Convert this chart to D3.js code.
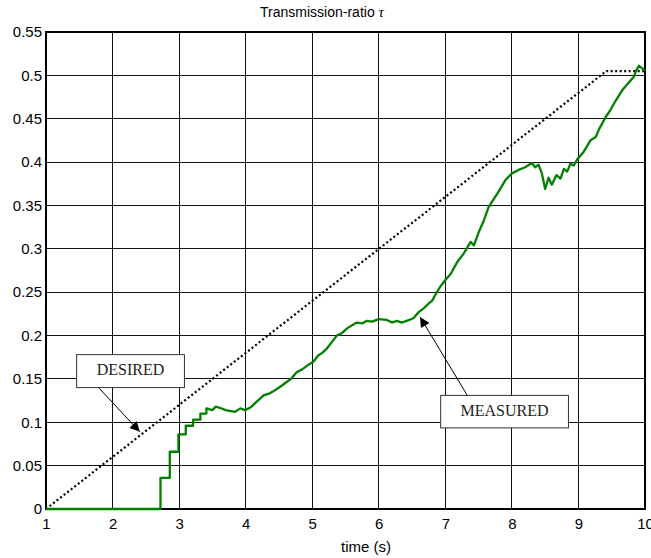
<!DOCTYPE html>
<html>
<head>
<meta charset="utf-8">
<script src="https://cdn.jsdelivr.net/npm/d3@7"></script>
<style>
  html, body { margin: 0; padding: 0; background: #fff; }
  svg { display: block; }
  .tick text { font-family: "Liberation Sans", Arial, sans-serif; font-size: 15px; fill: #000; }
</style>
</head>
<body>
<svg id="chart" width="651" height="558"></svg>
<script>
// Time axis (s) and transmission-ratio axis
const xTicks = [1, 2, 3, 4, 5, 6, 7, 8, 9, 10];
const yTicks = [0, 0.05, 0.1, 0.15, 0.2, 0.25, 0.3, 0.35, 0.4, 0.45, 0.5, 0.55];

// Reference trajectory: ramp then hold
const desiredT = [1, 9.42, 10];
const desiredV = [0, 0.505, 0.505];

// Measured transmission ratio
const measuredT = [1, 2.72, 2.72, 2.86, 2.86, 2.99, 2.99, 3.1, 3.1, 3.21, 3.21, 3.32, 3.32, 3.41, 3.41,
  3.5, 3.55, 3.6, 3.7, 3.84, 3.92, 3.99, 4.07, 4.17, 4.27, 4.35, 4.44, 4.52, 4.59, 4.68, 4.77, 4.85, 4.92,
  5.02, 5.09, 5.15, 5.22, 5.3, 5.37, 5.45, 5.52, 5.6, 5.67, 5.75, 5.82, 5.9, 6.0, 6.12, 6.2, 6.27, 6.35,
  6.42, 6.52, 6.6, 6.67, 6.75, 6.8, 6.85, 6.92, 7.0, 7.08, 7.18, 7.28, 7.38, 7.43, 7.5, 7.58, 7.65, 7.7,
  7.8, 7.9, 8.0, 8.1, 8.2, 8.3, 8.35, 8.4, 8.45, 8.5, 8.55, 8.6, 8.67, 8.73, 8.78, 8.83, 8.88, 8.93, 8.98,
  9.08, 9.18, 9.26, 9.31, 9.41, 9.48, 9.56, 9.66, 9.76, 9.83, 9.87, 9.91, 9.96, 10];
const measuredV = [0, 0, 0.036, 0.036, 0.066, 0.066, 0.086, 0.086, 0.096, 0.096, 0.103, 0.103, 0.110, 0.110, 0.116,
  0.114, 0.118, 0.117, 0.114, 0.112, 0.116, 0.114, 0.117, 0.124, 0.131, 0.133, 0.137, 0.141, 0.145, 0.150, 0.158, 0.161, 0.165,
  0.170, 0.177, 0.180, 0.185, 0.193, 0.200, 0.203, 0.208, 0.212, 0.215, 0.214, 0.217, 0.216, 0.219, 0.218, 0.215, 0.217, 0.215,
  0.217, 0.220, 0.227, 0.231, 0.237, 0.240, 0.247, 0.256, 0.264, 0.271, 0.285, 0.295, 0.308, 0.304, 0.319, 0.333, 0.348, 0.354,
  0.366, 0.379, 0.387, 0.391, 0.394, 0.399, 0.394, 0.397, 0.387, 0.369, 0.382, 0.374, 0.385, 0.381, 0.392, 0.389, 0.398, 0.396, 0.403,
  0.412, 0.425, 0.429, 0.438, 0.452, 0.460, 0.471, 0.483, 0.492, 0.498, 0.506, 0.511, 0.508, 0.505];

// Callout labels: text, arrow tip (t, v), box corners (t, v) and arrow tail (t, v)
const calloutText = ["DESIRED", "MEASURED"];
const calloutTip = [[2.41, 0.089], [6.62, 0.2215]];
const calloutBox = [[1.46, 0.178, 3.08, 0.140], [6.93, 0.131, 8.85, 0.0935]];
const calloutTail = [[1.79, 0.140], [7.33, 0.131]];

const svg = d3.select("#chart");
const margin = { left: 46, right: 6, top: 32, bottom: 49 };
const W = 651, H = 558;

const x = d3.scaleLinear().domain([1, 10]).range([margin.left, W - margin.right]);
const y = d3.scaleLinear().domain([0, 0.55]).range([H - margin.bottom, margin.top]);

// Grid
const grid = svg.append("g");
grid.selectAll(".gx").data(xTicks.slice(1, -1)).join("line")
  .attr("x1", d => x(d)).attr("x2", d => x(d))
  .attr("y1", y(0)).attr("y2", y(0.55))
  .attr("stroke", "#111").attr("stroke-width", 1).attr("shape-rendering", "crispEdges");
grid.selectAll(".gy").data(yTicks.slice(1, -1)).join("line")
  .attr("y1", d => y(d)).attr("y2", d => y(d))
  .attr("x1", x(1)).attr("x2", x(10))
  .attr("stroke", "#111").attr("stroke-width", 1).attr("shape-rendering", "crispEdges");

// Axes
const xAxis = d3.axisBottom(x).tickValues(xTicks).tickFormat(d3.format("d")).tickSize(0).tickPadding(9);
const yAxis = d3.axisLeft(y).tickValues(yTicks).tickFormat(d => String(+d.toFixed(2))).tickSize(0).tickPadding(4);
svg.append("g").attr("transform", `translate(0,${y(0)})`).call(xAxis).call(g => g.select(".domain").remove());
svg.append("g").attr("transform", `translate(${x(1)},0)`).call(yAxis).call(g => g.select(".domain").remove());

// Frame
svg.append("rect")
  .attr("x", x(1)).attr("y", y(0.55))
  .attr("width", x(10) - x(1)).attr("height", y(0) - y(0.55))
  .attr("fill", "none").attr("stroke", "#000").attr("stroke-width", 2);

// Desired trajectory (dotted)
const line = d3.line().x(d => x(d[0])).y(d => y(d[1]));
svg.append("path")
  .datum(desiredT.map((t, i) => [t, desiredV[i]]))
  .attr("d", line)
  .attr("fill", "none").attr("stroke", "#000").attr("stroke-width", 2.2)
  .attr("stroke-dasharray", "2,2.5");

// Measured trajectory
svg.append("path")
  .datum(measuredT.map((t, i) => [t, measuredV[i]]))
  .attr("d", line)
  .attr("fill", "none").attr("stroke", "#008000").attr("stroke-width", 2.3)
  .attr("stroke-linejoin", "round");

// Callouts
const defs = svg.append("defs");
defs.append("marker").attr("id", "arrow").attr("viewBox", "0 0 10 10")
  .attr("refX", 10).attr("refY", 5).attr("markerWidth", 14).attr("markerHeight", 10)
  .attr("markerUnits", "userSpaceOnUse").attr("orient", "auto")
  .append("path").attr("d", "M0,0 L10,5 L0,10 Z").attr("fill", "#000");

calloutText.forEach((txt, i) => {
  const b = calloutBox[i];
  svg.append("line")
    .attr("x1", x(calloutTail[i][0])).attr("y1", y(calloutTail[i][1]))
    .attr("x2", x(calloutTip[i][0])).attr("y2", y(calloutTip[i][1]))
    .attr("stroke", "#000").attr("stroke-width", 1).attr("marker-end", "url(#arrow)");
  svg.append("rect")
    .attr("x", x(b[0])).attr("y", y(b[1]))
    .attr("width", x(b[2]) - x(b[0])).attr("height", y(b[3]) - y(b[1]))
    .attr("fill", "#fff").attr("stroke", "#333").attr("stroke-width", 1);
  svg.append("text")
    .attr("x", (x(b[0]) + x(b[2])) / 2).attr("y", (y(b[1]) + y(b[3])) / 2 + 4)
    .attr("text-anchor", "middle")
    .attr("font-family", "'Liberation Serif', 'Times New Roman', serif").attr("font-size", 16)
    .attr("fill", "#222").text(txt);
});

// Title and axis label
const title = svg.append("text")
  .attr("x", 322).attr("y", 17)
  .attr("text-anchor", "middle")
  .attr("font-family", "'Liberation Sans', Arial, sans-serif").attr("font-size", 14).attr("fill", "#000");
title.append("tspan").text("Transmission-ratio ");
title.append("tspan").attr("font-family", "'Liberation Serif', 'Times New Roman', serif")
  .attr("font-style", "italic").attr("font-size", 15).text("τ");

svg.append("text")
  .attr("x", 366).attr("y", 552)
  .attr("text-anchor", "middle")
  .attr("font-family", "'Liberation Sans', Arial, sans-serif").attr("font-size", 15).attr("fill", "#000")
  .text("time (s)");
</script>
</body>
</html>
